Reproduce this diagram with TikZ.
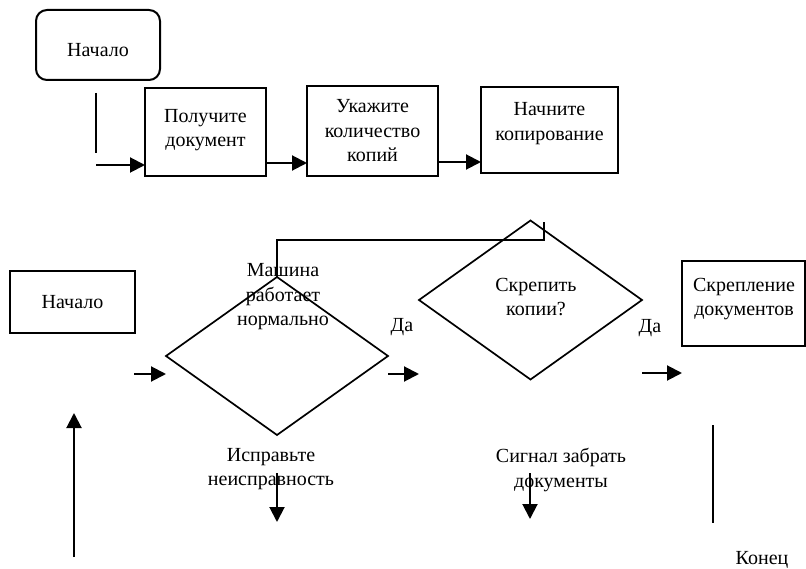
\documentclass[tikz,border=0pt]{standalone}
\usepackage{fontspec}
\setmainfont{Liberation Serif}
\usetikzlibrary{shapes.geometric,arrows.meta}
\begin{document}
\begin{tikzpicture}[x=1pt,y=-1pt,
  line width=2pt,
  txt/.style={inner sep=0pt,align=center,font=\fontsize{20}{24.5}\selectfont},
  box/.style={draw,rectangle,inner sep=0pt,outer sep=0pt},
  decision/.style={draw,diamond,inner sep=0pt,outer sep=0pt,line width=1.7pt},
  arr/.style={-{Triangle[length=15pt,width=15pt]}}]
\useasboundingbox (0,0) rectangle (806,569);

% ---- upper chain ----
\node[box,rounded corners=11pt,minimum width=124pt,minimum height=70pt] (start1) at (98,45) {};
\node[txt] (start1t) at (98,50) {Начало};

\node[box,minimum width=121pt,minimum height=88pt] (getdoc) at (205.5,132) {};
\node[txt] (getdoct) at (205.5,130) {Получите\\документ};

\node[box,minimum width=131pt,minimum height=90pt] (count) at (372.5,131) {};
\node[txt] (countt) at (372.5,131) {Укажите\\количество\\копий};

\node[box,minimum width=137pt,minimum height=86pt] (copy) at (549.5,130) {};
\node[txt] (copyt) at (549.5,123.5) {Начните\\копирование};

\coordinate (s1a) at (96,93);
\coordinate (s1b) at (96,153);
\coordinate (s1c) at (96,165);
\draw (s1a) -- (s1b);
\draw[arr] (s1c) -- (getdoc.west |- s1c);
\draw[arr] (getdoc.east |- 0,163) -- (count.west |- 0,163);
\draw[arr] (count.east |- 0,162) -- (copy.west |- 0,162);

% ---- lower chain ----
\node[box,minimum width=125pt,minimum height=62pt] (start2) at (72.5,302) {};
\node[txt] (start2t) at (72.5,302) {Начало};

\node[decision,minimum width=222pt,minimum height=158pt] (d1) at (277,356) {};
\node[txt] (d1t) at (283,297) {Машина\\работает\\нормально};

\node[decision,minimum width=223pt,minimum height=159pt] (d2) at (530.5,300) {};
\node[txt] (d2t) at (536,297) {Скрепить\\копии?};

\node[box,minimum width=123pt,minimum height=85pt] (staple) at (743.5,303.5) {};
\node[txt] (staplet) at (744,299) {Скрепление\\документов};

% loop line from the first decision over to the second
\draw (d1.north) -- (d1.north |- 0,240) -- (544,240) -- (544,222);

\coordinate (a1) at (134,374);
\draw[arr] (a1) -- (d1.west |- a1);
\draw[arr] (d1.east |- 0,374) -- (d2.west |- 0,374);
\draw[arr] (d2.east |- 0,373) -- (staple.west |- 0,373);

\node[txt] (yes1) at (402,327) {Да};
\node[txt] (yes2) at (650,328) {Да};

\node[txt] (fix) at (271,469) {Исправьте\\неисправность};
\coordinate (f1) at (277,473);
\coordinate (f2) at (277,522);
\draw[arr] (f1) -- (f2);

\node[txt] (sig) at (561,470) {Сигнал забрать\\документы};
\coordinate (g1) at (530,473);
\coordinate (g2) at (530,519);
\draw[arr] (g1) -- (g2);

\coordinate (e1) at (713,425);
\coordinate (e2) at (713,523);
\draw (e1) -- (e2);
\node[txt] (endt) at (762,560) {Конец};

\coordinate (u1) at (74,557);
\coordinate (u2) at (74,413);
\draw[arr] (u1) -- (u2);
\end{tikzpicture}
\end{document}
